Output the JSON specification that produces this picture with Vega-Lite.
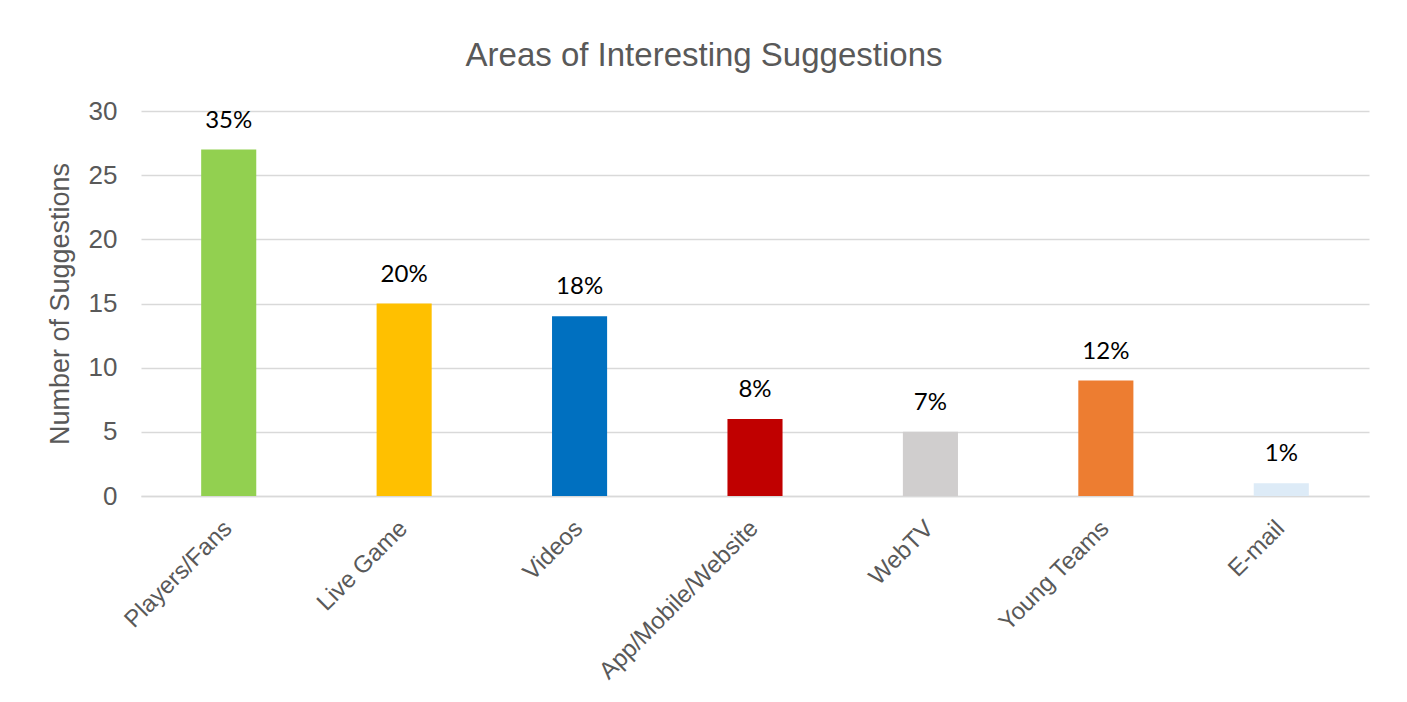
{
  "$schema": "https://vega.github.io/schema/vega-lite/v6.json",
  "autosize": {"type": "none"},
  "width": 1228,
  "height": 385,
  "padding": {"left": 141, "top": 111, "right": 38, "bottom": 206},
  "background": "white",
  "title": {
    "text": "Areas of Interesting Suggestions",
    "font": "Liberation Sans",
    "fontSize": 33,
    "fontWeight": "normal",
    "color": "#595959",
    "baseline": "alphabetic",
    "offset": -1,
    "anchor": "middle",
    "dx": -51
  },
  "data": {
    "values": [
      {"area": "Players/Fans", "count": 27, "pct": "35%"},
      {"area": "Live Game", "count": 15, "pct": "20%"},
      {"area": "Videos", "count": 14, "pct": "18%"},
      {"area": "App/Mobile/Website", "count": 6, "pct": "8%"},
      {"area": "WebTV", "count": 5, "pct": "7%"},
      {"area": "Young Teams", "count": 9, "pct": "12%"},
      {"area": "E-mail", "count": 1, "pct": "1%"}
    ]
  },
  "encoding": {
    "x": {
      "field": "area",
      "type": "nominal",
      "sort": null,
      "scale": {"paddingInner": 0.686, "paddingOuter": 0.343},
      "axis": {
        "title": null,
        "labelAngle": -45,
        "labelFont": "Liberation Sans",
        "labelFontSize": 24,
        "labelColor": "#595959",
        "labelPadding": 20,
        "labelOffset": -9,
        "labelLimit": 0,
        "ticks": false,
        "domain": true,
        "domainColor": "#D9D9D9",
        "domainWidth": 1.5
      }
    },
    "y": {
      "field": "count",
      "type": "quantitative",
      "scale": {"domain": [0, 30]},
      "axis": {
        "title": "Number of Suggestions",
        "titleFont": "Liberation Sans",
        "titleFontSize": 27,
        "titleFontWeight": "normal",
        "titleColor": "#595959",
        "titlePadding": 14,
        "values": [0, 5, 10, 15, 20, 25, 30],
        "labelFont": "Liberation Sans",
        "labelFontSize": 26,
        "labelColor": "#595959",
        "labelPadding": 24,
        "ticks": false,
        "domain": false,
        "grid": true,
        "gridColor": "#D9D9D9",
        "gridWidth": 1.5
      }
    }
  },
  "layer": [
    {
      "mark": {"type": "bar"},
      "encoding": {
        "color": {
          "field": "area",
          "type": "nominal",
          "legend": null,
          "scale": {
            "domain": ["Players/Fans", "Live Game", "Videos", "App/Mobile/Website", "WebTV", "Young Teams", "E-mail"],
            "range": ["#92D050", "#FFC000", "#0070C0", "#C00000", "#D0CECE", "#ED7D31", "#DDEBF7"]
          }
        }
      }
    },
    {
      "mark": {"type": "text", "baseline": "alphabetic", "dy": -22, "font": "Lato", "fontSize": 24, "color": "#000000"},
      "encoding": {"text": {"field": "pct"}}
    }
  ],
  "config": {"view": {"stroke": null}}
}
